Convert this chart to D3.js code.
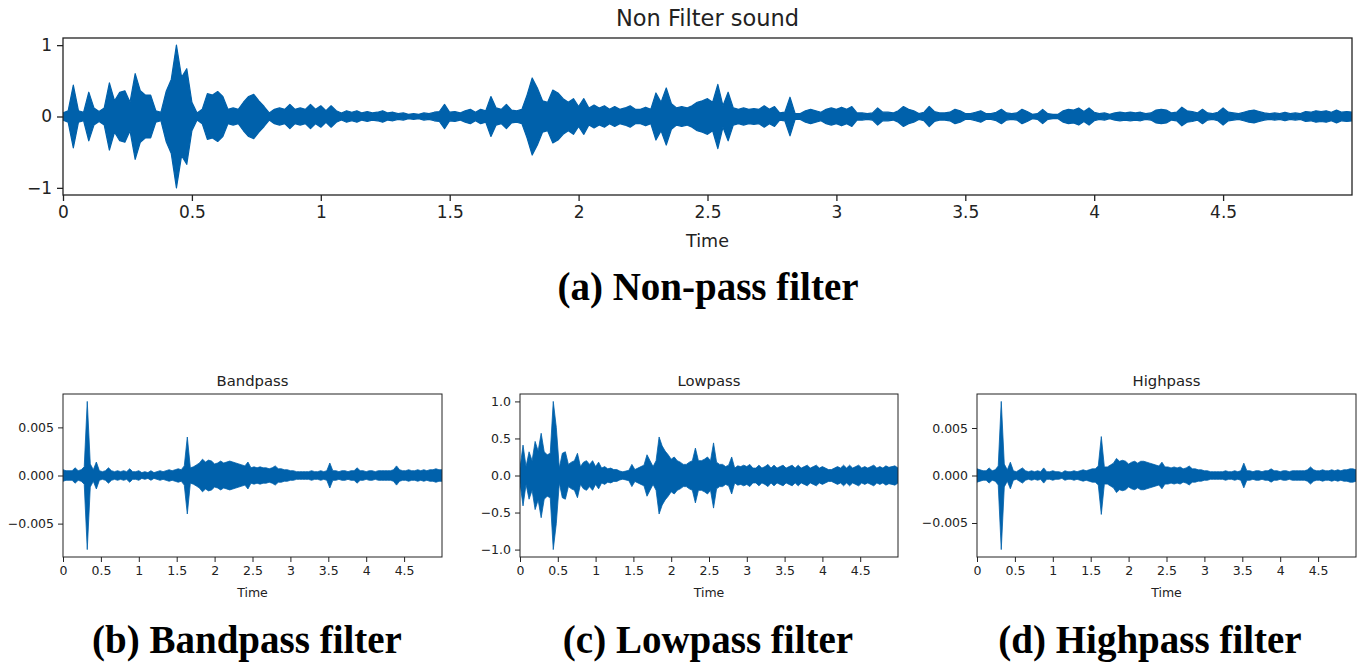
<!DOCTYPE html>
<html>
<head>
<meta charset="utf-8">
<script src="https://cdn.jsdelivr.net/npm/d3@7"></script>
<style>
  body { margin: 0; background: #fff; }
  svg { display: block; }
  .tick line { stroke: #222; }
  .domain { display: none; }
</style>
</head>
<body>
<div id="chart"></div>
<script>
// time ticks shared by every panel
const timeTicks = [0, 0.5, 1, 1.5, 2, 2.5, 3, 3.5, 4, 4.5];
const timeLabels = ["0", "0.5", "1", "1.5", "2", "2.5", "3", "3.5", "4", "4.5"];

// y ticks
const rawTicks = [-1, 0, 1];
const rawLabels = ["\u22121", "0", "1"];
const lowTicks = [-1, -0.5, 0, 0.5, 1];
const lowLabels = ["\u22121.0", "\u22120.5", "0.0", "0.5", "1.0"];
const bandTicks = [-0.005, 0, 0.005];
const bandLabels = ["\u22120.005", "0.000", "0.005"];

// waveform envelopes (peak amplitude)
// unfiltered: one value every 0.02 s
const rawStep = 0.02;
const rawAmp = [
  0.05, 0.08, 0.44, 0.08, 0.06, 0.34, 0.12, 0.07, 0.12, 0.47,
  0.22, 0.34, 0.36, 0.2, 0.6, 0.36, 0.3, 0.3, 0.08, 0.06,
  0.35, 0.52, 1.0, 0.55, 0.67, 0.2, 0.05, 0.1, 0.32, 0.3,
  0.35, 0.28, 0.1, 0.12, 0.1, 0.2, 0.28, 0.31, 0.22, 0.14,
  0.05, 0.1, 0.12, 0.1, 0.17, 0.1, 0.12, 0.1, 0.17, 0.1,
  0.15, 0.08, 0.15, 0.08, 0.05, 0.08, 0.06, 0.08, 0.05, 0.07,
  0.05, 0.06, 0.08, 0.05, 0.06, 0.04, 0.05, 0.03, 0.04, 0.03,
  0.05, 0.04, 0.06, 0.07, 0.17, 0.06, 0.07, 0.05, 0.08, 0.1,
  0.06, 0.1, 0.08, 0.28, 0.12, 0.1, 0.17, 0.09, 0.08, 0.1,
  0.3, 0.54, 0.4, 0.22, 0.2, 0.37, 0.33, 0.25, 0.2, 0.25,
  0.14, 0.25, 0.12, 0.16, 0.12, 0.15, 0.1, 0.14, 0.1, 0.12,
  0.15, 0.1, 0.1, 0.13, 0.1, 0.33, 0.2, 0.4, 0.18, 0.12,
  0.14, 0.12, 0.15, 0.2, 0.22, 0.25, 0.2, 0.45, 0.15, 0.34,
  0.12, 0.1, 0.12, 0.1, 0.11, 0.1, 0.15, 0.1, 0.14, 0.05,
  0.06, 0.27, 0.04, 0.04, 0.08, 0.1, 0.08, 0.06, 0.1, 0.12,
  0.1, 0.13, 0.1, 0.14, 0.05, 0.05, 0.04, 0.05, 0.12, 0.06,
  0.06, 0.05, 0.08, 0.14, 0.1, 0.08, 0.04, 0.06, 0.14, 0.07,
  0.05, 0.05, 0.06, 0.1, 0.08, 0.04, 0.04, 0.06, 0.08, 0.04,
  0.04, 0.06, 0.1, 0.05, 0.04, 0.05, 0.1, 0.07, 0.03, 0.04,
  0.1, 0.04, 0.03, 0.03, 0.08, 0.1, 0.09, 0.12, 0.07, 0.12,
  0.06, 0.04, 0.05, 0.03, 0.05, 0.06, 0.05, 0.06, 0.05, 0.06,
  0.04, 0.05, 0.09, 0.1, 0.09, 0.05, 0.06, 0.13, 0.08, 0.07,
  0.05, 0.1, 0.05, 0.04, 0.06, 0.12, 0.06, 0.05, 0.04, 0.06,
  0.08, 0.09, 0.07, 0.05, 0.04, 0.05, 0.04, 0.06, 0.04, 0.05,
  0.04, 0.07, 0.06, 0.08, 0.07, 0.08, 0.06, 0.09, 0.06, 0.07,
  0.06
];

// small panels: one value every 0.04 s
const smallStep = 0.04;
const bandAmp = [
  0.0006, 0.0005, 0.0005, 0.0005, 0.0008, 0.0005, 0.0006, 0.0009, 0.0077, 0.0012,
  0.0006, 0.0014, 0.0005, 0.0004, 0.0005, 0.0008, 0.0005, 0.0004, 0.0005, 0.0004,
  0.0005, 0.0004, 0.0007, 0.0004, 0.0004, 0.0005, 0.0003, 0.0004, 0.0003, 0.0005,
  0.0003, 0.0004, 0.0005, 0.0004, 0.0005, 0.0006, 0.0005, 0.0006, 0.0007, 0.0006,
  0.001, 0.004, 0.0008, 0.0009, 0.0011, 0.0013, 0.0017, 0.0014, 0.0016, 0.0015,
  0.0012, 0.0013, 0.0015, 0.0013, 0.0014, 0.0015, 0.0014, 0.0013, 0.0012, 0.0011,
  0.001, 0.0014, 0.0008, 0.0009, 0.0008, 0.0009, 0.0008, 0.0008, 0.0007, 0.0008,
  0.001, 0.0007, 0.0007, 0.0006, 0.0006, 0.0005, 0.0005, 0.0004, 0.0004, 0.0004,
  0.0004, 0.0004, 0.0005, 0.0004, 0.0004, 0.0005, 0.0004, 0.0005, 0.0013, 0.0005,
  0.0005, 0.0004, 0.0005, 0.0005, 0.0004, 0.0005, 0.0005, 0.0008, 0.0005, 0.0005,
  0.0004, 0.0005, 0.0005, 0.0004, 0.0005, 0.0005, 0.0005, 0.0005, 0.0005, 0.0006,
  0.001, 0.0006, 0.0005, 0.0005, 0.0006, 0.0005, 0.0005, 0.0006, 0.0005, 0.0006,
  0.0005, 0.0006, 0.0006, 0.0007, 0.0006, 0.0006
];

const lowAmp = [
  0.1, 0.41, 0.12, 0.32, 0.2, 0.46, 0.33, 0.57, 0.32, 0.28,
  0.3, 1.0, 0.65, 0.1, 0.3, 0.32, 0.15, 0.18, 0.2, 0.3,
  0.12, 0.18, 0.2, 0.15, 0.2, 0.12, 0.18, 0.1, 0.12, 0.09,
  0.1, 0.08, 0.08, 0.06, 0.05, 0.06, 0.07, 0.15, 0.08, 0.1,
  0.12, 0.14, 0.28, 0.2, 0.12, 0.2, 0.52, 0.4, 0.33, 0.28,
  0.22, 0.25, 0.2, 0.18, 0.15, 0.15, 0.18, 0.2, 0.37, 0.2,
  0.2, 0.22, 0.25, 0.2, 0.44, 0.18, 0.15, 0.15, 0.12, 0.14,
  0.25, 0.1, 0.13, 0.12, 0.14, 0.12, 0.15, 0.1, 0.1, 0.14,
  0.1, 0.12, 0.15, 0.1, 0.14, 0.1, 0.12, 0.14, 0.1, 0.12,
  0.14, 0.1, 0.14, 0.1, 0.12, 0.14, 0.1, 0.12, 0.14, 0.1,
  0.12, 0.1, 0.08, 0.08, 0.1, 0.12, 0.1, 0.14, 0.1, 0.14,
  0.1, 0.12, 0.14, 0.1, 0.12, 0.1, 0.12, 0.14, 0.1, 0.12,
  0.1, 0.13, 0.11, 0.12, 0.13, 0.1
];

const highAmp = [
  0.0007, 0.0006, 0.0005, 0.0005, 0.0008, 0.0005, 0.0006, 0.001, 0.0078, 0.0012,
  0.0006, 0.0014, 0.0005, 0.0004, 0.0006, 0.0008, 0.0005, 0.0004, 0.0005, 0.0004,
  0.0005, 0.0004, 0.0008, 0.0004, 0.0004, 0.0005, 0.0004, 0.0004, 0.0003, 0.0005,
  0.0004, 0.0004, 0.0005, 0.0004, 0.0005, 0.0006, 0.0005, 0.0006, 0.0007, 0.0007,
  0.001, 0.0041, 0.0009, 0.0009, 0.0011, 0.0013, 0.0018, 0.0015, 0.0016, 0.0015,
  0.0012, 0.0014, 0.0015, 0.0013, 0.0015, 0.0015, 0.0014, 0.0013, 0.0012, 0.0011,
  0.001, 0.0014, 0.0009, 0.0009, 0.0008, 0.0009, 0.0008, 0.0009, 0.0007, 0.0008,
  0.001, 0.0007, 0.0007, 0.0006, 0.0006, 0.0005, 0.0005, 0.0004, 0.0004, 0.0004,
  0.0004, 0.0004, 0.0005, 0.0004, 0.0004, 0.0005, 0.0004, 0.0005, 0.0013, 0.0005,
  0.0005, 0.0004, 0.0005, 0.0005, 0.0004, 0.0005, 0.0005, 0.0007, 0.0005, 0.0005,
  0.0004, 0.0005, 0.0005, 0.0004, 0.0005, 0.0005, 0.0005, 0.0005, 0.0005, 0.0006,
  0.0009, 0.0006, 0.0005, 0.0005, 0.0006, 0.0005, 0.0005, 0.0006, 0.0005, 0.0006,
  0.0005, 0.0006, 0.0006, 0.0007, 0.0007, 0.0006
];

const waveColor = "#0061ab";
const width = 1364;
const height = 665;

let svg = d3.select("#chart").append("svg")
  .attr("width", width)
  .attr("height", height);

let clipId = 0;

const drawPanel = (p) => {
  let x = d3.scaleLinear().domain([0, 5.0]).range([p.left, p.right]);
  let maxA = d3.max(p.amp);
  let pad = maxA * 0.1;
  let y = d3.scaleLinear().domain([-maxA - pad, maxA + pad]).range([p.bottom, p.top]);

  let data = p.amp.map(function (a, i) { return { t: i * p.step, a: a }; });

  clipId += 1;
  svg.append("clipPath")
    .attr("id", "clip" + clipId)
    .append("rect")
    .attr("x", p.left)
    .attr("y", p.top)
    .attr("width", p.right - p.left)
    .attr("height", p.bottom - p.top);

  let area = d3.area()
    .x(function (d) { return x(d.t); })
    .y0(function (d) { return y(-d.a); })
    .y1(function (d) { return y(d.a); });

  svg.append("path")
    .datum(data)
    .attr("clip-path", `url(#clip${clipId})`)
    .attr("d", area)
    .attr("fill", waveColor)
    .attr("stroke", waveColor)
    .attr("stroke-width", p.stroke)
    .attr("stroke-linejoin", "round");

  let xAxis = d3.axisBottom(x)
    .tickValues(timeTicks)
    .tickFormat(function (d, i) { return timeLabels[i]; })
    .tickSize(p.tick)
    .tickPadding(p.tickPad);

  let gx = svg.append("g")
    .attr("transform", `translate(0, ${p.bottom})`)
    .call(xAxis);

  let yAxis = d3.axisLeft(y)
    .tickValues(p.yTicks)
    .tickFormat(function (d, i) { return p.yLabels[i]; })
    .tickSize(p.tick)
    .tickPadding(p.tickPad);

  let gy = svg.append("g")
    .attr("transform", `translate(${p.left}, 0)`)
    .call(yAxis);

  [gx, gy].forEach(function (g) {
    g.selectAll("text")
      .attr("fill", "#222")
      .style("font-family", "DejaVu Sans")
      .style("font-size", p.tickFont + "px");
    g.selectAll(".tick line").attr("stroke-width", p.frame);
  });

  svg.append("rect")
    .attr("x", p.left)
    .attr("y", p.top)
    .attr("width", p.right - p.left)
    .attr("height", p.bottom - p.top)
    .attr("fill", "none")
    .attr("stroke", "#222")
    .attr("stroke-width", p.frame);

  let mid = (p.left + p.right) / 2;

  svg.append("text")
    .attr("x", mid)
    .attr("y", p.top - p.titleGap)
    .attr("text-anchor", "middle")
    .attr("fill", "#222")
    .style("font-family", "DejaVu Sans")
    .style("font-size", p.titleFont + "px")
    .text(p.title);

  svg.append("text")
    .attr("x", mid)
    .attr("y", p.labelY)
    .attr("text-anchor", "middle")
    .attr("fill", "#222")
    .style("font-family", "DejaVu Sans")
    .style("font-size", p.labelFont + "px")
    .text("Time");

  svg.append("text")
    .attr("x", p.captionX)
    .attr("y", p.captionY)
    .attr("text-anchor", "middle")
    .attr("fill", "#000")
    .style("font-family", "Liberation Serif")
    .style("font-weight", "bold")
    .style("font-size", "39px")
    .text(p.caption);
};

drawPanel({
  left: 63, right: 1352, top: 38, bottom: 195,
  amp: rawAmp, step: rawStep, stroke: 1.2,
  yTicks: rawTicks, yLabels: rawLabels,
  tick: 6, tickPad: 5, tickFont: 17, frame: 1.3,
  title: "Non Filter sound", titleGap: 12, titleFont: 22.5,
  labelY: 247, labelFont: 17.5,
  caption: "(a) Non-pass filter", captionX: 708, captionY: 300
});

drawPanel({
  left: 63, right: 442, top: 394, bottom: 557,
  amp: bandAmp, step: smallStep, stroke: 0.8,
  yTicks: bandTicks, yLabels: bandLabels,
  tick: 5, tickPad: 4, tickFont: 12.5, frame: 1,
  title: "Bandpass", titleGap: 8, titleFont: 14.8,
  labelY: 597, labelFont: 12.5,
  caption: "(b) Bandpass filter", captionX: 247, captionY: 653
});

drawPanel({
  left: 520, right: 898, top: 394, bottom: 557,
  amp: lowAmp, step: smallStep, stroke: 0.8,
  yTicks: lowTicks, yLabels: lowLabels,
  tick: 5, tickPad: 4, tickFont: 12.5, frame: 1,
  title: "Lowpass", titleGap: 8, titleFont: 14.8,
  labelY: 597, labelFont: 12.5,
  caption: "(c) Lowpass filter", captionX: 708, captionY: 653
});

drawPanel({
  left: 977, right: 1356, top: 394, bottom: 557,
  amp: highAmp, step: smallStep, stroke: 0.8,
  yTicks: bandTicks, yLabels: bandLabels,
  tick: 5, tickPad: 4, tickFont: 12.5, frame: 1,
  title: "Highpass", titleGap: 8, titleFont: 14.8,
  labelY: 597, labelFont: 12.5,
  caption: "(d) Highpass filter", captionX: 1150, captionY: 653
});
</script>
</body>
</html>
